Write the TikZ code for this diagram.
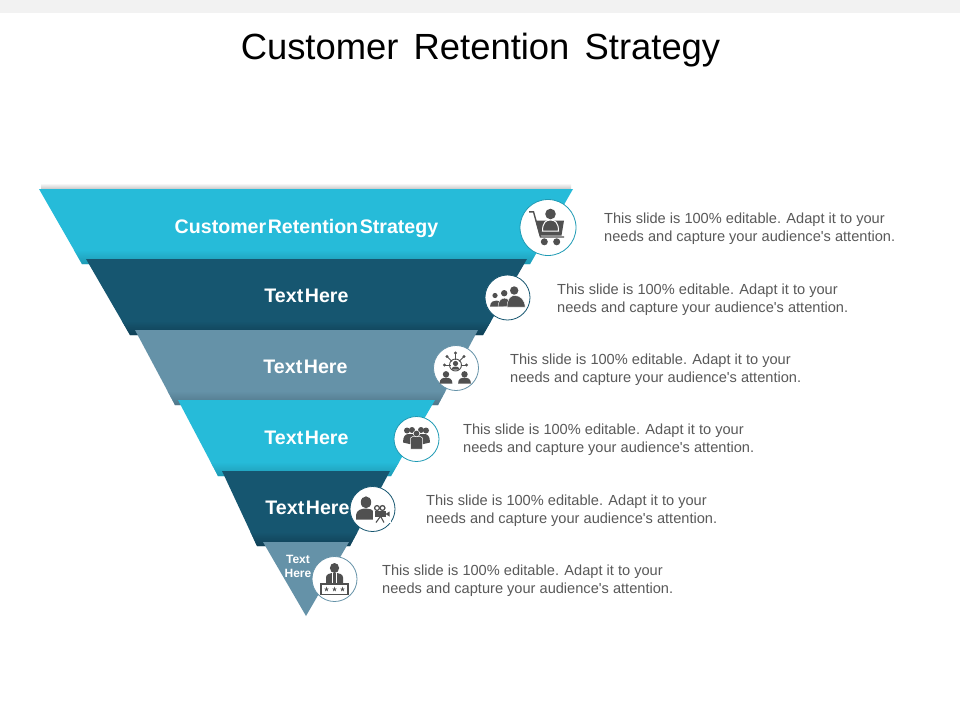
\documentclass[tikz,border=0pt]{standalone}
\usepackage{fontspec}
\setmainfont{Liberation Sans}
\newfontfamily\labf[WordSpace=0.3]{Liberation Sans Bold}
\newfontfamily\titf[WordSpace=1.5]{Liberation Sans}
\definecolor{cy}{HTML}{26BBD9}
\definecolor{cyd}{HTML}{1E9AB4}
\definecolor{dk}{HTML}{165670}
\definecolor{dkd}{HTML}{0F3F55}
\definecolor{sl}{HTML}{6592A8}
\definecolor{sld}{HTML}{4F7689}
\definecolor{ic}{HTML}{505050}
\definecolor{tx}{HTML}{595959}
\tikzset{
  x=1pt,y=-1pt,
  lab/.style={text=white,font=\labf\fontsize{19.6}{21}\selectfont,inner sep=0pt},
  desc/.style={text=tx,font=\fontsize{14.6}{18}\selectfont,align=left,anchor=west,inner sep=0pt},
  ring/.style={circle,fill=white,draw=#1,line width=0.8pt,inner sep=0pt,text width=0pt},
}
\newcommand{\layer}[2]{\fill[#2] #1 -- cycle;}
\newcommand{\band}[5]{%
  \begin{scope}\clip #1 -- cycle;
  \shade[top color=#2,bottom color=#3] (0,#4) rectangle (960,#5);
  \end{scope}}
\newcommand{\person}[3]{%
  \begin{scope}[shift={(#1,#2)},scale=#3]
  \fill[ic] (0,0) circle (1);
  \fill[ic] (-2,2.9) .. controls (-2,1.4) and (-1.1,1.05) .. (0,1.05) .. controls (1.1,1.05) and (2,1.4) .. (2,2.9) -- cycle;
  \end{scope}}
\newcommand{\starmark}[1]{%
  \fill[ic,shift={(#1,10.3)}] (270:2.6) -- (54:2.6) -- (198:2.6) -- (342:2.6) -- (126:2.6) -- cycle;}
\newcommand{\desctext}{This slide is 100\% editable. Adapt it to your\\needs and capture your audience\textquotesingle s attention.}
\begin{document}
\begin{tikzpicture}
\useasboundingbox (0,0) rectangle (960,720);
\fill[white] (0,0) rectangle (960,720);
\fill[black!5] (0,0) rectangle (960,13);
\node[font=\titf\fontsize{36.4}{40}\selectfont,text=black,inner sep=0pt] (title) at (480.5,50) {Customer Retention Strategy};
% top shadow
\shade[top color=white,bottom color=black!22] (41,183) rectangle (571,189);
% layers
\def\Pa{(39,189) -- (573,189) -- (530,264) -- (82,264)}
\def\Pb{(86,259) -- (527,259) -- (483,335) -- (130,335)}
\def\Pc{(135,330) -- (478,330) -- (438,405) -- (175,405)}
\def\Pd{(178,400) -- (435,400) -- (391,476) -- (218,476)}
\def\Pe{(222,471) -- (390,471) -- (350,546) -- (257,546)}
\def\Pf{(263,542) -- (349,542) -- (306,616)}
\layer{\Pa}{cy}\band{\Pa}{cy}{cyd}{250}{264}
\layer{\Pb}{dk}\band{\Pb}{dk}{dkd}{321}{335}
\layer{\Pc}{sl}\band{\Pc}{sl}{sld}{391}{405}
\layer{\Pd}{cy}\band{\Pd}{cy}{cyd}{462}{476}
\layer{\Pe}{dk}\band{\Pe}{dk}{dkd}{532}{546}
\layer{\Pf}{sl}
% labels
\node[lab] (l1) at (306.5,228) {Customer Retention Strategy};
\node[lab] (l2) at (306.5,296) {Text Here};
\node[lab] (l3) at (305.5,367) {Text Here};
\node[lab] (l4) at (306.5,438) {Text Here};
\node[lab] (l5) at (307.5,508) {Text Here};
\node[lab,font=\labf\fontsize{12}{14}\selectfont,align=center] (l6) at (298,566) {Text\\Here};
% circles
\node[ring=cyd,minimum size=56pt] (c1) at (548,227.5) {};
\node[ring=dk,minimum size=45pt] (c2) at (507.5,297.5) {};
\node[ring=sl,minimum size=45pt] (c3) at (456,368) {};
\node[ring=cyd,minimum size=45pt] (c4) at (416.5,439) {};
\node[ring=dk,minimum size=45pt] (c5) at (372.5,509) {};
\node[ring=sl,minimum size=45pt] (c6) at (334.5,579) {};
% icon 1: cart
\begin{scope}[shift={(c1)}]
  \draw[ic,line width=1.4pt] (-19,-15.7) -- (-14.5,-15.7) -- (-7.5,9.5) -- (16,9.5);
  \fill[ic] (-12.5,-7) -- (16,-7) -- (13.5,8) -- (-8.5,8) -- cycle;
  \fill[ic,draw=white,line width=1pt] (-5.5,3.5) .. controls (-5.5,-5) and (-2,-7.5) .. (2.5,-7.5) .. controls (7,-7.5) and (10.5,-5) .. (10.5,3.5) -- cycle;
  \fill[ic] (2.5,-13.5) circle (5.3);
  \fill[ic] (-3.7,14.3) circle (3.5);
  \fill[ic] (8.7,14.3) circle (3.5);
\end{scope}
% icon 2: three people
\begin{scope}[shift={(c2)}]
  \fill[ic] (-12.5,-2) circle (2.6);
  \fill[ic] (-3.3,-4.3) circle (3.2);
  \fill[ic] (6.7,-7) circle (4.2);
  \fill[ic] (-17.5,9) .. controls (-17,4) and (-14,3) .. (-11,3) .. controls (-8,3) and (-5,4) .. (-4,9) -- cycle;
  \fill[ic,draw=white,line width=.4pt] (-9.5,9) .. controls (-9,2.5) and (-6,0.7) .. (-3,0.7) .. controls (0,0.7) and (3,2.5) .. (3.5,9) -- cycle;
  \fill[ic,draw=white,line width=.4pt] (-0.5,9.5) .. controls (0,1) and (3,-2) .. (7,-2) .. controls (13,-2) and (17,2) .. (17.7,9.5) -- cycle;
\end{scope}
% icon 3: network of people
\begin{scope}[shift={(c3)}]
  \foreach \a/\d in {180/11,225/12,270/12,315/12,0/11}{
    \draw[ic,line width=.8pt] (-0.5,-3) ++(\a:5) -- ++(\a:\d-5);
    \fill[ic] (-0.5,-3) ++(\a:\d) circle (1.6);}
  \draw[ic,line width=.9pt] (-0.5,-3) circle (6);
  \fill[ic] (-0.5,-4.5) circle (2.6);
  \fill[ic] (-4.5,1.5) .. controls (-4.5,-1) and (-2.5,-1.5) .. (-0.5,-1.5) .. controls (1.5,-1.5) and (3.5,-1) .. (3.5,1.5) -- cycle;
  \person{-10}{6.3}{3.2}
  \person{8.5}{6.3}{3.2}
\end{scope}
% icon 4: group
\begin{scope}[shift={(c4)}]
  \fill[ic] (-9.5,-8.5) circle (3);
  \fill[ic] (9.5,-8.5) circle (3);
  \fill[ic] (-4.5,-9) circle (3);
  \fill[ic] (4.5,-9) circle (3);
  \fill[ic] (-13.5,3.5) .. controls (-13.5,-3) and (-11,-5) .. (-8,-5) -- (8,-5) .. controls (11,-5) and (13.5,-3) .. (13.5,3.5) -- (7,5) -- (-7,5) -- cycle;
  \fill[ic,draw=white,line width=.5pt] (-6,10) -- (-6,-1) .. controls (-6,-2.5) and (-3,-2.5) .. (0,-2.5) .. controls (3,-2.5) and (6,-2.5) .. (6,-1) -- (6,10) -- cycle;
  \fill[ic,draw=white,line width=.5pt] (0,-5.5) circle (3.3);
\end{scope}
% icon 5: person with camera
\begin{scope}[shift={(c5)}]
  \fill[ic] (-6.5,-6.7) ellipse (5.2 and 6);
  \fill[ic] (-16.5,10.5) -- (-16.5,6) .. controls (-16,1) and (-11,-0.5) .. (-6.5,-0.5) .. controls (-3,-0.5) and (0,0.5) .. (2,3) -- (3,10.5) -- cycle;
  \fill[white] (0.5,-5) rectangle (18,14);
  \draw[ic,line width=1.3pt] (4.5,-1) circle (2.4);
  \draw[ic,line width=1.3pt] (10,-1) circle (2.4);
  \fill[ic] (2.5,2) rectangle (13,8);
  \fill[ic] (13,5) -- (17,2.5) -- (17,7.5) -- cycle;
  \draw[ic,line width=1.1pt] (7.5,8) -- (3.5,13.5) (8.5,8) -- (11.5,13.5);
\end{scope}
% icon 6: speaker at podium
\begin{scope}[shift={(c6)}]
  \fill[ic] (0,-11) ellipse (4.6 and 5);
  \fill[ic] (-8.5,5) -- (-8.5,-1.5) .. controls (-8.5,-5) and (-4.5,-6) .. (0,-6) .. controls (4.5,-6) and (8.5,-5) .. (8.5,-1.5) -- (8.5,5) -- cycle;
  \draw[white,line width=.7pt] (-2.2,-6) -- (-2.2,5) (2.2,-6) -- (2.2,5);
  \draw[ic,line width=1.1pt] (-13.5,5) rectangle (13.5,15.5);
  \starmark{-8}\starmark{0}\starmark{8}
\end{scope}
% descriptions
\node[desc] (d1) at (604,229) {\desctext};
\node[desc] (d2) at (557,299.5) {\desctext};
\node[desc] (d3) at (510,370) {\desctext};
\node[desc] (d4) at (463,440) {\desctext};
\node[desc] (d5) at (426,511) {\desctext};
\node[desc] (d6) at (382,581) {\desctext};
\end{tikzpicture}
\end{document}
